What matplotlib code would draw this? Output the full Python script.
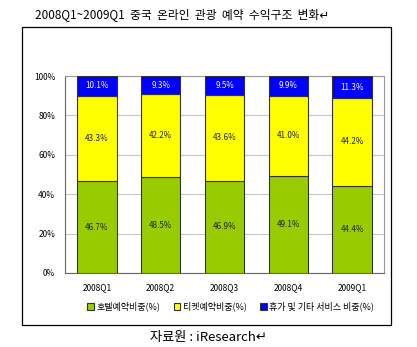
import matplotlib
matplotlib.use("Agg")
import matplotlib.pyplot as plt
import numpy as np
from matplotlib.patches import Rectangle

plt.rcParams["font.family"] = ["Noto Sans CJK KR", "DejaVu Sans"]

quarters = ["2008Q1", "2008Q2", "2008Q3", "2008Q4", "2009Q1"]
hotel = [46.7, 48.5, 46.9, 49.1, 44.4]
ticket = [43.3, 42.2, 43.6, 41.0, 44.2]
other = [10.1, 9.3, 9.5, 9.9, 11.3]
series_names = ["호텔예약비중(%)", "티켓예약비중(%)", "휴가 및 기타 서비스 비중(%)"]
colors = ["#99CC00", "#FFFF00", "#0000FF"]
text_colors = ["#222222", "#222222", "white"]

W, H = 417, 347
fig = plt.figure(figsize=(W / 100, H / 100), dpi=100)
ax = fig.add_axes([65 / W, 1 - 273 / H, (384 - 65) / W, (273 - 76) / H])

x = np.arange(len(quarters))
bottom = np.zeros(len(quarters))
for vals, name, col, tcol in zip([hotel, ticket, other], series_names, colors, text_colors):
    vals = np.array(vals)
    ax.bar(x, vals, 0.62, bottom=bottom, color=col, edgecolor="#333333",
           linewidth=0.8, label=name, zorder=3)
    for xi, b, v in zip(x, bottom, vals):
        ax.text(xi, b + v / 2, f"{v:.1f}%", ha="center", va="center",
                fontsize=5.8, color=tcol, zorder=4)
    bottom = bottom + vals

ax.set_xlim(-0.5, 4.5)
ax.set_ylim(0, 100)
ax.set_yticks(range(0, 101, 20))
ax.set_yticklabels([f"{v}%" for v in range(0, 101, 20)], fontsize=6)
ax.set_xticks(x)
ax.set_xticklabels(quarters, fontsize=6)
ax.tick_params(length=0, pad=7)
ax.grid(True, axis="y", color="#c8c8c8", linewidth=0.8, zorder=0)
for side in ["top", "right"]:
    ax.spines[side].set_color("#999999")
for side in ["left", "bottom"]:
    ax.spines[side].set_color("#666666")

ax.legend(loc="upper center", bbox_to_anchor=(0.52, -0.105), ncol=3, frameon=False,
          fontsize=6.5, handlelength=0.7, handleheight=0.7, handletextpad=0.3,
          columnspacing=1.5)

# outer box around chart
fig.patches.append(Rectangle((22 / W, 1 - 325 / H), (391 - 22) / W, (325 - 27) / H,
                             transform=fig.transFigure, fill=False,
                             edgecolor="black", linewidth=0.9))

fig.text(182 / W, 1 - 15 / H, "2008Q1~2009Q1  중국  온라인  관광  예약  수익구조  변화↵",
         ha="center", va="center", fontsize=8.5)
fig.text(208 / W, 1 - 337 / H, "자료원 : iResearch↵", ha="center", va="center",
         fontsize=9.5)

fig.savefig("out.png", dpi=100)
